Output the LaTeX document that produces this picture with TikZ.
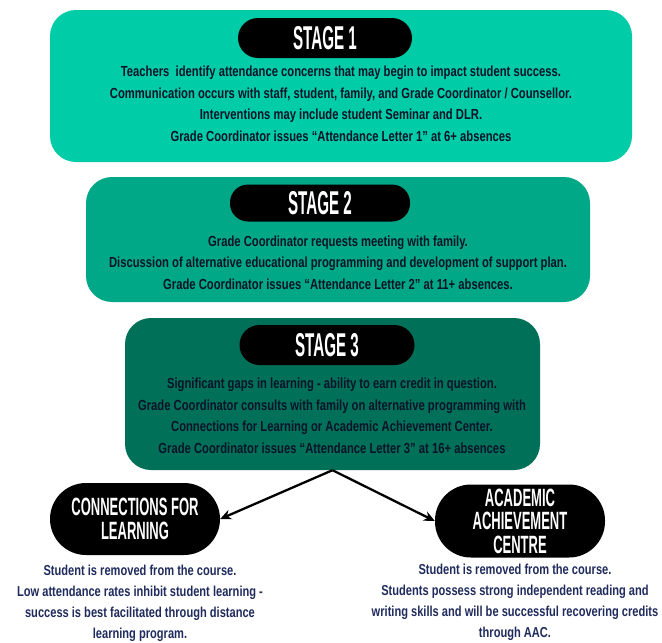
\documentclass[tikz,border=0pt]{standalone}
\usepackage{fontspec}
\usetikzlibrary{arrows.meta}
\newfontfamily\bodyfont{Liberation Sans}[FakeStretch=0.77]
\newfontfamily\headfont{Liberation Sans}[FakeStretch=0.46]
\newfontfamily\pillfont{Liberation Sans}[FakeStretch=0.52]
\definecolor{stageone}{rgb}{0,0.8,0.66}
\definecolor{stagetwo}{rgb}{0,0.66,0.53}
\definecolor{stagethree}{rgb}{0,0.44,0.35}
\definecolor{inktext}{rgb}{0.04,0.08,0.16}
\definecolor{navytext}{rgb}{0.12,0.17,0.36}

\begin{document}
\begin{tikzpicture}[x=1pt,y=-1pt,
  stagebox/.style={rectangle,rounded corners=26pt,inner sep=0pt},
  pill/.style={rectangle,fill=black,text=white,inner sep=0pt,align=center,
    font=\headfont\bfseries},
  bodytext/.style={align=center,text=inktext,inner sep=0pt,
    font=\bodyfont\bfseries\fontsize{14.6}{21.5}\selectfont},
  desctext/.style={align=center,text=navytext,inner sep=0pt,
    font=\bodyfont\bfseries\fontsize{14.4}{21}\selectfont},
  link/.style={-{Stealth[length=11pt,width=10pt]},line width=2.3pt,black}]
\useasboundingbox (0,0) rectangle (662,643);

% the three stages
\node[stagebox,fill=stageone,minimum width=582pt,minimum height=152pt] (s1) at (341,86) {};
\node[stagebox,fill=stagetwo,minimum width=504pt,minimum height=125pt] (s2) at (338,239.5) {};
\node[stagebox,fill=stagethree,minimum width=415pt,minimum height=152pt] (s3) at (332.5,394) {};

% stage titles
\node[pill,rounded corners=20pt,minimum width=174pt,minimum height=40pt,
  font=\headfont\bfseries\fontsize{33}{33}\selectfont] (t1) at (325,38) {STAGE 1};
\node[pill,rounded corners=18pt,minimum width=180pt,minimum height=37pt,
  font=\headfont\bfseries\fontsize{33}{33}\selectfont] (t2) at (320,203) {STAGE 2};
\node[pill,rounded corners=20pt,minimum width=175pt,minimum height=40pt,
  font=\headfont\bfseries\fontsize{33}{33}\selectfont] (t3) at (327,345) {STAGE 3};

\node[bodytext] (b1) at (341,104) {Teachers\ \ identify attendance concerns that may begin to impact student success.\\
  Communication occurs with staff, student, family, and Grade Coordinator / Counsellor.\\
  Interventions may include student Seminar and DLR.\\
  Grade Coordinator issues “Attendance Letter 1” at 6+ absences};
\node[bodytext] (b2) at (338,262.5) {Grade Coordinator requests meeting with family.\\
  Discussion of alternative educational programming and development of support plan.\\
  Grade Coordinator issues “Attendance Letter 2” at 11+ absences.};
\node[bodytext] (b3) at (332,416) {Significant gaps in learning - ability to earn credit in question.\\
  Grade Coordinator consults with family on alternative programming with\\
  Connections for Learning or Academic Achievement Center.\\
  Grade Coordinator issues “Attendance Letter 3” at 16+ absences};

% the two programs
\node[pill,rounded corners=36pt,minimum width=170pt,minimum height=72pt,
  font=\pillfont\bfseries\fontsize{25}{24}\selectfont] (cfl) at (135,519) {CONNECTIONS FOR\\LEARNING};
\node[pill,rounded corners=36pt,minimum width=170pt,minimum height=73pt,
  font=\pillfont\bfseries\fontsize{25}{23.5}\selectfont] (aac) at (520,521) {ACADEMIC\\ACHIEVEMENT\\CENTRE};

\node[desctext] (d1) at (140,603.5) {Student is removed from the course.\\
  Low attendance rates inhibit student learning -\\
  success is best facilitated through distance\\
  learning program.};
\node[desctext] (d2) at (515,602) {Student is removed from the course.\\
  Students possess strong independent reading and\\
  writing skills and will be successful recovering credits\\
  through AAC.};

\draw[link] (s3.south) -- (cfl.east);
\draw[link] (s3.south) -- (aac.west);
\end{tikzpicture}
\end{document}
